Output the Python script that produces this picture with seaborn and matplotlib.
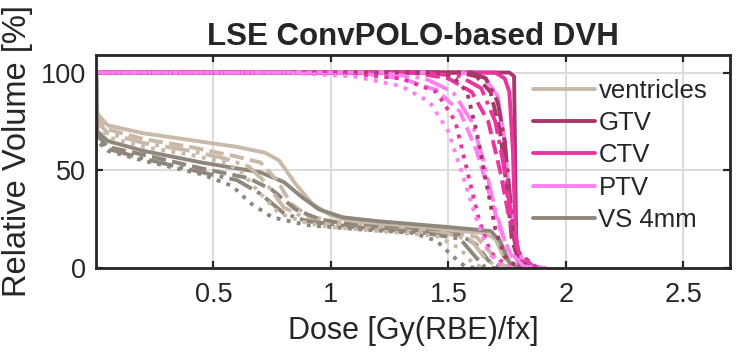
import matplotlib
matplotlib.use("Agg")
import matplotlib.pyplot as plt
import seaborn as sns
import pandas as pd

# structures, legend labels and colours
structures = ["ventricles", "GTV", "CTV", "PTV", "VS 4mm"]
colors = ["#c9b9a8", "#a8386a", "#e8369e", "#ff80f2", "#8f877b"]
scenarios = ["-", "--", "-.", ":"]

# DVH curves per structure, one list per scenario (solid, dashed, dash-dot, dotted)
ventricles_dose = [
    [0, 0.005, 0.05, 0.2, 0.4, 0.6, 0.72, 0.78, 0.85, 0.92, 1.0, 1.1, 1.3, 1.5, 1.65, 1.7, 1.74, 1.78, 1.85],
    [0, 0.005, 0.05, 0.2, 0.4, 0.6, 0.7, 0.77, 0.83, 0.9, 1.0, 1.2, 1.5, 1.62, 1.68, 1.72, 1.78],
    [0, 0.005, 0.05, 0.2, 0.4, 0.55, 0.65, 0.72, 0.8, 0.9, 1.0, 1.2, 1.5, 1.6, 1.65, 1.7, 1.75],
    [0, 0.005, 0.05, 0.2, 0.4, 0.55, 0.62, 0.7, 0.78, 0.9, 1.0, 1.2, 1.45, 1.55, 1.6, 1.65],
]
ventricles_vol = [
    [100, 79, 73, 69, 65.5, 62, 59, 55, 43, 33, 27, 23.5, 21, 19.5, 18, 15, 5, 1, 0],
    [100, 77, 71, 66, 62, 57, 54, 45, 33, 27, 24, 21, 18.5, 16, 8, 2, 0],
    [100, 75, 69, 64, 60, 56, 52, 44, 31, 25, 22, 20, 17.5, 14, 6, 1, 0],
    [100, 73, 67, 62, 58, 54, 49, 38, 28, 23, 21, 19, 16.5, 10, 3, 0],
]

gtv_dose = [
    [0, 1.76, 1.78, 1.785, 1.79, 1.81, 1.85],
    [0, 1.55, 1.62, 1.68, 1.72, 1.75, 1.77, 1.8, 1.85],
    [0, 1.6, 1.66, 1.71, 1.74, 1.76, 1.78, 1.8, 1.86],
    [0, 1.45, 1.52, 1.58, 1.62, 1.66, 1.7, 1.74, 1.8],
]
gtv_vol = [
    [100, 100, 98, 50, 5, 0.5, 0],
    [100, 100, 98, 90, 70, 40, 15, 3, 0],
    [100, 100, 97, 85, 65, 40, 15, 4, 0],
    [100, 100, 98, 90, 70, 45, 20, 6, 0],
]

ctv_dose = [
    [0, 1.7, 1.74, 1.76, 1.775, 1.785, 1.8, 1.85, 1.9],
    [0, 1.35, 1.5, 1.6, 1.67, 1.72, 1.76, 1.8, 1.86, 1.9],
    [0, 1.4, 1.55, 1.64, 1.7, 1.74, 1.77, 1.8, 1.88],
    [0, 1.0, 1.3, 1.45, 1.53, 1.58, 1.63, 1.68, 1.75, 1.8],
]
ctv_vol = [
    [100, 100, 97, 90, 60, 20, 5, 1, 0],
    [100, 100, 97, 90, 75, 50, 25, 8, 1, 0],
    [100, 100, 98, 92, 75, 50, 25, 8, 0],
    [100, 100, 97, 90, 75, 50, 25, 8, 1, 0],
]

ptv_dose = [
    [0, 1.55, 1.65, 1.71, 1.74, 1.76, 1.79, 1.83, 1.9],
    [0, 1.1, 1.3, 1.45, 1.55, 1.62, 1.67, 1.72, 1.77, 1.85, 1.92],
    [0, 1.2, 1.4, 1.52, 1.6, 1.65, 1.7, 1.75, 1.82, 1.9],
    [0, 0.8, 1.1, 1.3, 1.42, 1.5, 1.56, 1.62, 1.67, 1.72, 1.78],
]
ptv_vol = [
    [100, 100, 98, 88, 65, 35, 10, 2, 0],
    [100, 100, 97, 91, 80, 60, 40, 20, 6, 1, 0],
    [100, 100, 97, 90, 75, 55, 30, 10, 1, 0],
    [100, 100, 98, 93, 85, 70, 48, 25, 8, 2, 0],
]

vs_dose = [
    [0, 0.005, 0.05, 0.2, 0.45, 0.7, 0.8, 0.88, 0.95, 1.05, 1.2, 1.5, 1.68, 1.72, 1.76, 1.8],
    [0, 0.005, 0.05, 0.2, 0.45, 0.65, 0.75, 0.85, 0.95, 1.1, 1.4, 1.55, 1.62, 1.67, 1.72],
    [0, 0.005, 0.05, 0.2, 0.45, 0.6, 0.7, 0.8, 0.9, 1.1, 1.4, 1.55, 1.6, 1.65, 1.7],
    [0, 0.005, 0.05, 0.2, 0.45, 0.58, 0.66, 0.75, 0.9, 1.1, 1.35, 1.45, 1.52, 1.57, 1.62],
]
vs_vol = [
    [100, 70, 65, 60, 54, 49, 44, 36, 30, 26, 24, 21, 19, 14, 3, 0],
    [100, 68, 62, 58, 51, 46, 40, 30, 25, 22, 19, 17, 12, 4, 0],
    [100, 66, 61, 56, 49, 45, 38, 28, 24, 21, 18, 15, 8, 1, 0],
    [100, 65, 60, 55, 48, 42, 33, 26, 22, 20, 18, 14, 6, 1, 0],
]

doses = [ventricles_dose, gtv_dose, ctv_dose, ptv_dose, vs_dose]
vols = [ventricles_vol, gtv_vol, ctv_vol, ptv_vol, vs_vol]

sns.set_style("white")
plt.rcParams["font.family"] = ["Liberation Sans", "DejaVu Sans"]

fig = plt.figure(figsize=(7.39, 3.59), dpi=100)
ax = fig.add_axes([0.130, 0.253, 0.858, 0.594])

for j, ls in enumerate(scenarios):
    for i, name in enumerate(structures):
        df = pd.DataFrame({"dose": doses[i][j], "vol": vols[i][j]})
        sns.lineplot(data=df, x="dose", y="vol", ax=ax, sort=False,
                     color=colors[i], linestyle=ls, lw=2.8,
                     label=name if ls == "-" else None)

ax.set_xlim(0, 2.7)
ax.set_ylim(0, 109)
ax.set_xticks([0.5, 1, 1.5, 2, 2.5])
ax.set_xticklabels(["0.5", "1", "1.5", "2", "2.5"])
ax.set_yticks([0, 50, 100])
ax.grid(True, color="#dcdcdc", lw=1.4)
ax.set_axisbelow(True)
ax.tick_params(axis="both", direction="in", length=5, width=1.6,
               bottom=True, left=True, top=True, right=True,
               labelsize=19.5, colors="#262626")
ax.tick_params(axis="x", pad=10)
ax.tick_params(axis="y", pad=7)
for s in ax.spines.values():
    s.set_visible(True)
    s.set_color("#262626")
    s.set_linewidth(2)

ax.set_title("LSE ConvPOLO-based DVH", fontsize=22.5, fontweight="bold", pad=7)
ax.set_xlabel("Dose [Gy(RBE)/fx]", fontsize=22, color="#262626", labelpad=6)
ax.set_ylabel("Relative Volume [%]", fontsize=23.5, color="#262626")
ax.yaxis.set_label_coords(-0.1, 0.55)

ax.legend(loc="upper left", bbox_to_anchor=(0.689, 0.887), frameon=False,
          fontsize=18.5, handlelength=2.4, handletextpad=0.15, labelspacing=0.32,
          borderpad=0, borderaxespad=0)

fig.savefig("out.png", dpi=100)
